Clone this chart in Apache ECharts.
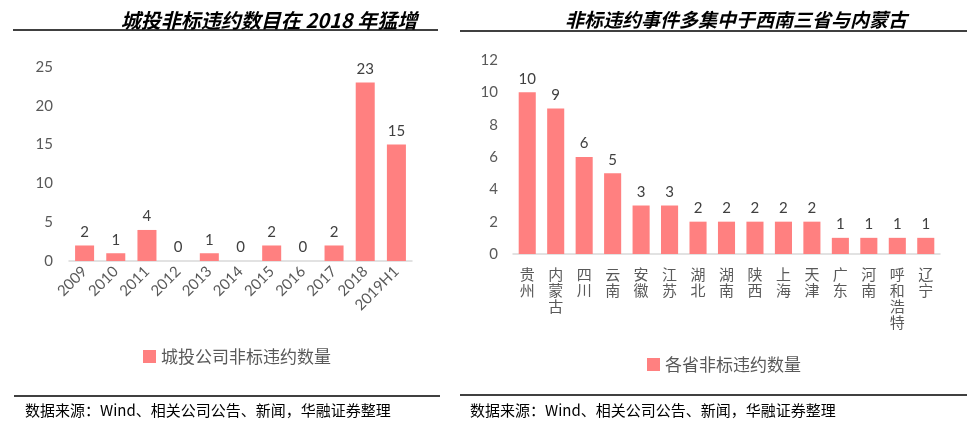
<!DOCTYPE html>
<html>
<head>
<meta charset="utf-8">
<script src="https://cdn.jsdelivr.net/npm/echarts@6/dist/echarts.min.js"></script>
<style>html,body{margin:0;padding:0;background:#fff;}#c{width:975px;height:426px;}</style>
</head>
<body>
<div id="c"></div>
<script>
// Left chart data
const years = ['2009','2010','2011','2012','2013','2014','2015','2016','2017','2018','2019H1'];
const cityValues = [2,1,4,0,1,0,2,0,2,23,15];
const leftTicks = [0,5,10,15,20,25];
// Right chart data
const provinces = ['贵州','内蒙古','四川','云南','安徽','江苏','湖北','湖南','陕西','上海','天津','广东','河南','呼和浩特','辽宁'];
const provinceValues = [10,9,6,5,3,3,2,2,2,2,2,1,1,1,1];
const rightTicks = [0,2,4,6,8,10,12];
// Texts
const leftTitle = '城投非标违约数目在 2018 年猛增';
const rightTitle = '非标违约事件多集中于西南三省与内蒙古';
const leftSeriesName = '城投公司非标违约数量';
const rightSeriesName = '各省非标违约数量';
const sourceText = '数据来源：Wind、相关公司公告、新闻，华融证券整理';

const FONT = 'Lato, "Noto Sans CJK SC", sans-serif';
const CJK = '"Noto Sans CJK SC", sans-serif';
const BAR = '#ff8080';

const chart = echarts.init(document.getElementById('c'), null, {renderer: 'canvas'});
const line = (x1, y1, x2, y2) => ({type: 'line', shape: {x1, y1, x2, y2}, style: {stroke: '#000', lineWidth: 1.5}, silent: true});
const src = (x) => ({type: 'text', x: x, y: 410, style: {text: sourceText, font: '15px ' + CJK, fill: '#000', verticalAlign: 'middle'}});

chart.setOption({
  animation: false,
  backgroundColor: '#fff',
  title: [
    {text: leftTitle, left: 264, top: 15, textAlign: 'center', textVerticalAlign: 'middle',
     textStyle: {fontSize: 20, fontWeight: 'bold', fontStyle: 'italic', fontFamily: CJK, color: '#000'}},
    {text: rightTitle, left: 731, top: 15, textAlign: 'center', textVerticalAlign: 'middle',
     textStyle: {fontSize: 19, fontWeight: 'bold', fontStyle: 'italic', fontFamily: CJK, color: '#000'}}
  ],
  legend: [
    {data: [leftSeriesName], left: 138, top: 343, itemWidth: 13, itemHeight: 13, icon: 'rect',
     textStyle: {fontSize: 17, color: '#595959', fontFamily: CJK}},
    {data: [rightSeriesName], left: 642, top: 351, itemWidth: 13, itemHeight: 13, icon: 'rect',
     textStyle: {fontSize: 17, color: '#595959', fontFamily: CJK}}
  ],
  grid: [
    {left: 69, top: 67, width: 343, height: 194, containLabel: false},
    {left: 513, top: 60, width: 427, height: 194, containLabel: false}
  ],
  xAxis: [
    {type: 'category', gridIndex: 0, data: years,
     axisLine: {lineStyle: {color: '#d9d9d9', width: 1.5}}, axisTick: {show: false},
     axisLabel: {rotate: 45, interval: 0, fontSize: 15, color: '#595959', fontFamily: FONT, margin: 8}},
    {type: 'category', gridIndex: 1, data: provinces,
     axisLine: {lineStyle: {color: '#d9d9d9', width: 1.5}}, axisTick: {show: false},
     axisLabel: {interval: 0, fontSize: 15, lineHeight: 16, color: '#595959', fontFamily: CJK, margin: 12,
       formatter: v => v.split('').join('\n')}}
  ],
  yAxis: [
    {type: 'value', gridIndex: 0, min: leftTicks[0], max: leftTicks[leftTicks.length - 1], interval: leftTicks[1] - leftTicks[0],
     axisLine: {show: false}, axisTick: {show: false}, splitLine: {show: false},
     axisLabel: {fontSize: 15, color: '#595959', fontFamily: FONT, margin: 16}},
    {type: 'value', gridIndex: 1, min: rightTicks[0], max: rightTicks[rightTicks.length - 1], interval: rightTicks[1] - rightTicks[0],
     axisLine: {show: false}, axisTick: {show: false}, splitLine: {show: false},
     axisLabel: {fontSize: 15, color: '#595959', fontFamily: FONT, margin: 15}}
  ],
  series: [
    {name: leftSeriesName, type: 'bar', xAxisIndex: 0, yAxisIndex: 0, data: cityValues,
     barCategoryGap: '39%', itemStyle: {color: BAR},
     label: {show: true, position: 'top', distance: 6, fontSize: 15, color: '#404040', fontFamily: FONT}},
    {name: rightSeriesName, type: 'bar', xAxisIndex: 1, yAxisIndex: 1, data: provinceValues,
     barCategoryGap: '40%', itemStyle: {color: BAR},
     label: {show: true, position: 'top', distance: 6, fontSize: 15, color: '#404040', fontFamily: FONT}}
  ],
  graphic: [
    line(13, 30, 438, 30),
    line(460, 31, 967, 31),
    line(14, 396, 440, 396),
    line(460, 395, 967, 395),
    src(25),
    src(470)
  ]
});
</script>
</body>
</html>
